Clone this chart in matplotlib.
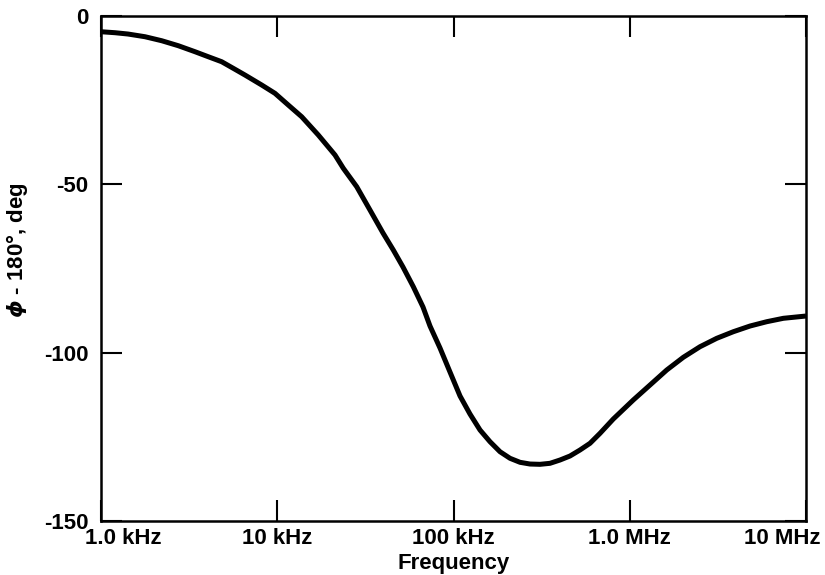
import matplotlib
matplotlib.use("Agg")
import matplotlib.pyplot as plt
import matplotlib.transforms as mtransforms
from matplotlib.ticker import FixedLocator, NullLocator

# phase curve
freq_hz = [1000, 1201, 1423, 1777, 2211, 2746, 3415, 4063, 4839, 5759,
           6562, 8163, 9710, 11550, 13760, 17100, 21270, 23710, 28240, 33590,
           39810, 45540, 51690, 59150, 67140, 73560, 83830, 95520, 108900,
           124000, 141400, 161100, 183600, 209200, 238400, 271600, 309600,
           352700, 402000, 458100, 522000, 595000, 678000, 806500, 1047000,
           1303000, 1621000, 2013000, 2503000, 3114000, 3868000, 4812000,
           5984000, 7433000, 10000000]
phase_deg = [-4.81, -5.10, -5.49, -6.29, -7.48, -8.96, -10.74, -12.23, -13.71, -15.96,
             -17.66, -20.62, -23.09, -26.56, -30.03, -35.46, -41.39, -45.34, -50.80, -57.72,
             -64.54, -69.58, -74.63, -80.47, -86.50, -92.14, -98.66, -105.79, -112.91,
             -118.25, -123.00, -126.47, -129.44, -131.39, -132.58, -133.09, -133.18,
             -132.88, -131.90, -130.71, -128.93, -126.94, -123.98, -119.73, -114.09,
             -109.64, -105.19, -101.42, -98.28, -95.79, -93.83, -92.14,
             -90.86, -89.85, -89.17]

x_ticks = [1e3, 1e4, 1e5, 1e6, 1e7]
x_labels = ["1.0 kHz", "10 kHz", "100 kHz", "1.0 MHz", "10 MHz"]
y_ticks = [0, -50, -100, -150]
y_labels = ["0", "-50", "-100", "-150"]

plt.rcParams['font.family'] = ['Liberation Sans', 'DejaVu Sans']
plt.rcParams['font.weight'] = 'bold'
plt.rcParams['mathtext.fontset'] = 'dejavusans'

fig = plt.figure(figsize=(8.25, 5.75), dpi=100)
ax = fig.add_axes([0.1224, 0.0939, 0.8546, 0.8791])

ax.plot(freq_hz, phase_deg, color='black', linewidth=3.6,
        solid_capstyle='butt', solid_joinstyle='round')

ax.set_xscale('log')
ax.set_xlim(1e3, 1e7)
ax.set_ylim(-150, 0)

ax.xaxis.set_major_locator(FixedLocator(x_ticks))
ax.xaxis.set_minor_locator(NullLocator())
ax.set_xticks(x_ticks)
ax.set_xticklabels(x_labels)
ax.set_yticks(y_ticks)
ax.set_yticklabels(y_labels)

ax.tick_params(axis='both', which='major', direction='in', length=15, width=1.5,
               top=True, right=True, labelsize=16, pad=5)
ax.tick_params(axis='y', pad=9)

for sp in ax.spines.values():
    sp.set_linewidth(1.8)

# first and last x labels sit inside the axis ends
labs = ax.get_xticklabels()
shift_first = mtransforms.ScaledTranslation(22 / 100, 0, fig.dpi_scale_trans)
shift_last = mtransforms.ScaledTranslation(-24 / 100, 0, fig.dpi_scale_trans)
labs[0].set_transform(labs[0].get_transform() + shift_first)
labs[-1].set_transform(labs[-1].get_transform() + shift_last)

ax.set_xlabel("Frequency", fontsize=16, fontweight='bold', labelpad=3)
ax.set_ylabel(r"$\phi$ - 180°, deg", fontsize=16, fontweight='bold')
ax.yaxis.set_label_coords(-0.1, 0.535)

fig.savefig("out.png", dpi=100)
